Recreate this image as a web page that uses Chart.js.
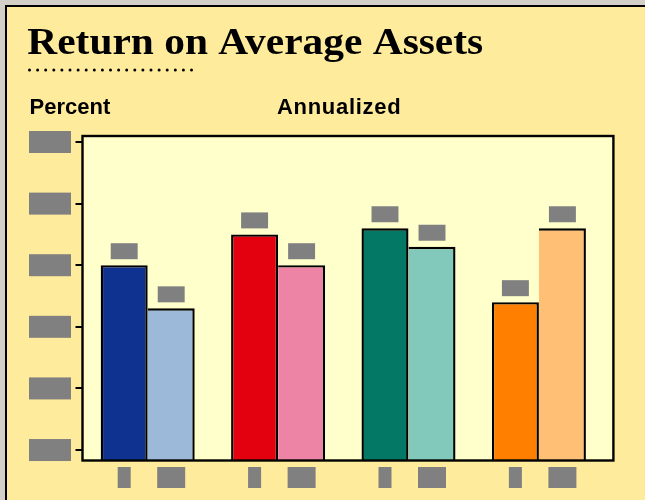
<!DOCTYPE html>
<html>
<head>
<meta charset="utf-8">
<script src="https://cdn.jsdelivr.net/npm/chart.js@4/dist/chart.umd.min.js"></script>
<style>
html,body{margin:0;padding:0;background:#D4D0C8;}
#wrap{width:645px;height:500px;position:relative;}
canvas{display:block;}
</style>
</head>
<body>
<div id="wrap"><canvas id="c" width="645" height="500"></canvas></div>
<script>
// ---- data ----
const chartTitle = 'Return on Average Assets';
const leftNote = 'Percent';
const centerNote = 'Annualized';
const groups = ['Group 1', 'Group 2', 'Group 3', 'Group 4'];
const currentValues = [1.40, 1.50, 1.52, 1.28];
const priorValues = [1.26, 1.40, 1.46, 1.52];
const currentLabels = ['8', '8', '8', '8'];
const priorLabels = ['U.S.', 'U.S.', 'U.S.', 'U.S.'];
const yTickValues = [0.8, 1.0, 1.2, 1.4, 1.6, 1.8];
const yTickLabels = ['0.80', '1.00', '1.20', '1.40', '1.60', '1.80'];
const yMin = 0.766;
const yMax = 1.8195;

// ---- style ----
const currentColors = ['#0F3291', '#E3000F', '#037864', '#FF8000'];
const priorColors = ['#9DB9DA', '#ED84A6', '#83C9BB', '#FFBF75'];
const PANEL = '#FFEB9C';
const PLOT_BG = '#FFFFCC';
const REDACT = '#808080';
const FRAME_EXT = 9.3;
const LABEL_BOX_W = [13, 28];

const decor = {
  id: 'decor',
  beforeDraw(chart) {
    const {ctx, chartArea: a} = chart;
    ctx.save();
    ctx.fillStyle = '#D4D0C8';
    ctx.fillRect(0, 0, 645, 500);
    ctx.fillStyle = '#000';
    ctx.fillRect(5, 5, 640, 495);
    ctx.fillStyle = PANEL;
    ctx.fillRect(7, 7, 638, 493);
    ctx.fillStyle = PLOT_BG;
    ctx.fillRect(a.left, a.top, a.right + FRAME_EXT - a.left, a.bottom - a.top);

    // title (serif, stretched to width)
    ctx.fillStyle = '#000';
    ctx.font = 'bold 37px "Liberation Serif"';
    ctx.textBaseline = 'alphabetic';
    ctx.textAlign = 'left';
    const m = ctx.measureText(chartTitle);
    const w = m.actualBoundingBoxLeft + m.actualBoundingBoxRight;
    const sx = 455.4 / w;
    ctx.save();
    ctx.translate(27.3, 54);
    ctx.scale(sx, 1);
    ctx.fillText(chartTitle, m.actualBoundingBoxLeft, 0);
    ctx.restore();

    // dotted rule
    for (let i = 0; i < 21; i++) {
      ctx.beginPath();
      ctx.arc(29.5 + i * 8.1, 70, 1.5, 0, Math.PI * 2);
      ctx.fill();
    }

    ctx.font = 'bold 22px "Liberation Sans"';
    ctx.fillText(leftNote, 29.5, 113.7);
    ctx.letterSpacing = '0.7px';
    ctx.fillText(centerNote, 277, 113.7);
    ctx.letterSpacing = '0px';
    ctx.restore();
  },
  afterDatasetsDraw(chart) {
    const {ctx, chartArea: a} = chart;
    ctx.save();
    ctx.strokeStyle = '#000';
    ctx.lineWidth = 2.4;
    ctx.strokeRect(a.left, a.top, a.right + FRAME_EXT - a.left, a.bottom - a.top);

    const labelSets = [currentLabels, priorLabels];
    const valueSets = [currentValues, priorValues];
    chart.data.datasets.forEach((ds, di) => {
      const meta = chart.getDatasetMeta(di);
      meta.data.forEach((bar, j) => {
        // value label (redacted box)
        const txt = valueSets[di][j].toFixed(2);
        ctx.font = 'bold 12px "Liberation Sans"';
        const tw = ctx.measureText(txt).width + 3.6;
        const bx = bar.x - tw / 2, by = bar.y - 6 - 16;
        ctx.fillStyle = REDACT;
        ctx.fillRect(bx, by, tw, 16);
        ctx.textAlign = 'center';
        ctx.textBaseline = 'middle';
        ctx.fillText(txt, bar.x, by + 8);

        // category label under each bar (redacted box)
        const lw = LABEL_BOX_W[di];
        const lx = bar.x - lw / 2, ly = a.bottom + 6.5;
        ctx.fillRect(lx, ly, lw, 21);
        ctx.save();
        ctx.beginPath();
        ctx.rect(lx, ly, lw, 21);
        ctx.clip();
        ctx.font = 'bold 13px "Liberation Sans"';
        ctx.fillText(labelSets[di][j], bar.x, ly + 10.5);
        ctx.restore();
      });
    });
    ctx.restore();
  }
};

new Chart(document.getElementById('c'), {
  type: 'bar',
  data: {
    labels: groups,
    datasets: [
      {
        label: 'Current',
        data: currentValues,
        backgroundColor: currentColors,
        borderColor: '#000',
        borderWidth: 2.4,
        borderSkipped: false
      },
      {
        label: 'Prior',
        data: priorValues,
        backgroundColor: priorColors,
        borderColor: '#000',
        borderWidth: {top: 2.4, right: 2.4, bottom: 2.4, left: 0},
        borderSkipped: false
      }
    ]
  },
  options: {
    responsive: false,
    animation: false,
    devicePixelRatio: 1,
    layout: {padding: {top: 136, left: 0, right: 40.9, bottom: 39.5}},
    datasets: {bar: {categoryPercentage: 0.721, barPercentage: 1}},
    plugins: {legend: {display: false}, tooltip: {enabled: false}, title: {display: false}},
    scales: {
      x: {display: false},
      y: {
        min: yMin,
        max: yMax,
        afterBuildTicks: s => { s.ticks = yTickValues.map(v => ({value: v})); },
        afterFit: s => { s.width = 82.5; },
        border: {display: false},
        grid: {drawOnChartArea: false, drawTicks: true, tickLength: 7, color: '#000', lineWidth: 2},
        ticks: {
          callback: (v) => yTickLabels[yTickValues.findIndex(t => Math.abs(t - v) < 1e-6)],
          color: REDACT,
          font: {family: 'Liberation Sans', weight: 'bold', size: 15},
          padding: 10.9,
          showLabelBackdrop: true,
          backdropColor: REDACT,
          backdropPadding: {top: 2, bottom: 2, left: 6.4, right: 6.4}
        }
      }
    }
  },
  plugins: [decor]
});
</script>
</body>
</html>
